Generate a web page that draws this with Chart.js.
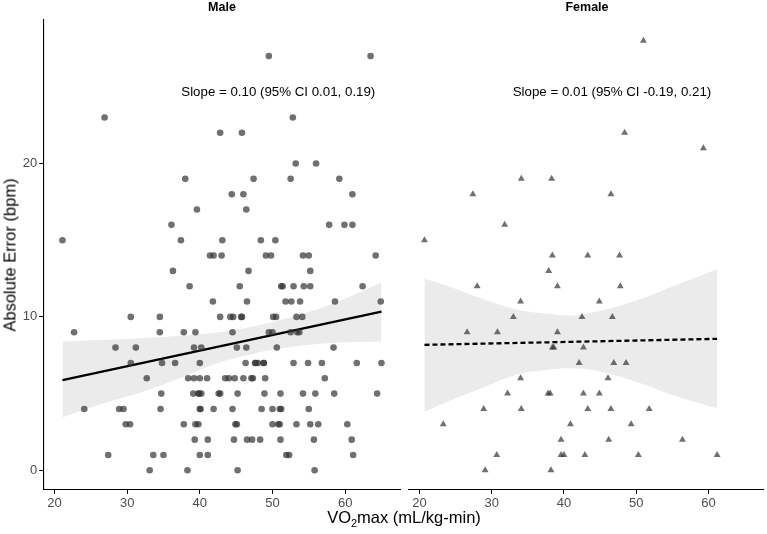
<!DOCTYPE html>
<html>
<head>
<meta charset="utf-8">
<script src="https://cdn.jsdelivr.net/npm/chart.js@4.4.1/dist/chart.umd.min.js"></script>
<style>
  body { margin: 0; background: #fff; font-family: "Liberation Sans", Arial, sans-serif; }
  #wrap { position: relative; width: 767px; height: 534px; overflow: hidden; }
  canvas { position: absolute; top: 0; }
  .lbl { position: absolute; color: #000; white-space: nowrap; }
</style>
</head>
<body>
<div id="wrap">
  <canvas id="maleChart" width="404" height="534" style="left:0"></canvas>
  <canvas id="femaleChart" width="363" height="534" style="left:404px"></canvas>
  <div class="lbl" style="left:222px;top:0;transform:translateX(-50%);font-size:12.5px;font-weight:bold;">Male</div>
  <div class="lbl" style="left:587px;top:0;transform:translateX(-50%);font-size:12.5px;font-weight:bold;">Female</div>
  <div class="lbl" style="left:404px;top:508px;transform:translateX(-50%);font-size:16.5px;">VO<sub style="font-size:11px;vertical-align:-4px;">2</sub>max (mL/kg-min)</div>
  <div class="lbl" style="left:10px;top:255px;transform:translate(-50%,-50%) rotate(-90deg);font-size:16.5px;">Absolute Error (bpm)</div>
</div>
<script>
// male: VO2max vs absolute error
const maleVO2 = [
  49.5, 63.5,
  26.9, 52.8,
  42.8, 45.8,
  53.2, 56.0,
  38.0, 47.4, 52.5, 59.2,
  44.4, 46.0, 61.0,
  39.6, 46.4,
  36.1, 57.8, 59.9, 61.0,
  21.1, 37.4, 43.1, 48.4, 50.4,
  41.4, 41.9, 43.0, 49.1, 49.8, 54.2, 55.0, 64.2,
  36.3, 46.7, 55.2,
  38.6, 45.5, 51.2, 51.4, 52.9, 54.3, 55.2, 62.4,
  41.8, 46.5, 51.8, 52.6, 53.8, 58.6, 64.9,
  30.5, 34.5, 42.8, 44.2, 44.6, 45.7, 45.8, 50.1, 50.5, 53.3, 54.1,
  22.7, 34.5, 37.8, 39.4, 44.5, 49.5, 50.0, 52.5, 53.4, 53.7,
  28.4, 31.2, 39.2, 40.2, 45.1, 46.4, 50.6, 58.4,
  30.5, 34.8, 36.6, 40.0, 46.3, 47.6, 47.7, 48.0, 48.8, 48.8, 52.9, 54.9, 56.8, 61.6, 65.0,
  32.7, 38.4, 39.2, 40.0, 41.0, 43.5, 44.0, 44.8, 46.0, 47.1, 47.3, 49.0, 57.2,
  34.7, 39.1, 39.8, 39.9, 40.2, 42.6, 42.8, 45.2, 48.9, 51.1, 54.2, 55.9, 58.5, 64.4,
  24.1, 28.9, 29.5, 34.6, 40.0, 40.1, 41.9, 44.5, 48.5, 50.0, 51.0, 51.2, 55.0,
  29.8, 30.4, 37.8, 39.4, 39.8, 44.9, 45.1, 50.0, 50.8, 51.0, 53.3, 55.2, 56.3, 60.3,
  39.3, 41.1, 44.7, 46.5, 47.2, 48.3, 51.1, 55.7, 60.9,
  27.4, 33.6, 35.0, 40.0, 41.1, 51.9, 52.3, 61.1,
  33.1, 38.3, 45.2, 55.8
];
const maleErr = [
  27, 27,
  23, 23,
  22, 22,
  20, 20,
  19, 19, 19, 19,
  18, 18, 18,
  17, 17,
  16, 16, 16, 16,
  15, 15, 15, 15, 15,
  14, 14, 14, 14, 14, 14, 14, 14,
  13, 13, 13,
  12, 12, 12, 12, 12, 12, 12, 12,
  11, 11, 11, 11, 11, 11, 11,
  10, 10, 10, 10, 10, 10, 10, 10, 10, 10, 10,
  9, 9, 9, 9, 9, 9, 9, 9, 9, 9,
  8, 8, 8, 8, 8, 8, 8, 8,
  7, 7, 7, 7, 7, 7, 7, 7, 7, 7, 7, 7, 7, 7, 7,
  6, 6, 6, 6, 6, 6, 6, 6, 6, 6, 6, 6, 6,
  5, 5, 5, 5, 5, 5, 5, 5, 5, 5, 5, 5, 5, 5,
  4, 4, 4, 4, 4, 4, 4, 4, 4, 4, 4, 4, 4,
  3, 3, 3, 3, 3, 3, 3, 3, 3, 3, 3, 3, 3, 3,
  2, 2, 2, 2, 2, 2, 2, 2, 2,
  1, 1, 1, 1, 1, 1, 1, 1,
  0, 0, 0, 0
];

// female: VO2max vs absolute error
const femaleVO2 = [
  51.0, 48.4, 59.3,
  34.1, 38.3,
  27.4, 46.5,
  31.8, 20.7,
  38.4, 43.3, 47.7,
  37.9,
  28.0, 39.1, 47.8,
  34.0, 44.9,
  33.0, 42.5, 46.7,
  26.6, 30.8, 39.1,
  38.4, 38.6, 42.7,
  42.1, 46.9, 48.6,
  34.0, 46.1,
  32.2, 37.8, 38.1, 42.7, 44.9,
  28.9, 34.1, 43.3, 46.5, 51.8,
  23.3, 40.9, 49.3,
  39.6, 46.2, 56.4,
  30.7, 39.6, 40.0, 42.9, 50.3, 61.2,
  29.1, 38.2
];
const femaleErr = [
  28, 22, 21,
  19, 19,
  18, 18,
  16, 15,
  14, 14, 14,
  13,
  12, 12, 12,
  11, 11,
  10, 10, 10,
  9, 9, 9,
  8, 8, 8,
  7, 7, 7,
  6, 6,
  5, 5, 5, 5, 5,
  4, 4, 4, 4, 4,
  3, 3, 3,
  2, 2, 2,
  1, 1, 1, 1, 1, 1,
  0, 0
];

// fitted lines and 95% bands
const maleFitX = [21.1, 65.0];
const maleFitY = [5.88, 10.35];
const maleBandX = [21.1, 26.0, 31.4, 36.7, 41.9, 46.5, 51.1, 57.9, 65.0];
const maleBandUpper = [8.4, 8.5, 8.6, 8.75, 8.95, 9.3, 9.8, 10.8, 12.25];
const maleBandLower = [3.45, 4.25, 5.0, 5.9, 6.9, 7.5, 7.95, 8.3, 8.4];

const femaleFitX = [20.7, 61.2];
const femaleFitY = [8.18, 8.57];
const femaleBandX = [20.7, 24.0, 28.6, 33.2, 37.7, 41.4, 45.9, 50.5, 55.1, 61.2];
const femaleBandUpper = [12.5, 12.0, 11.2, 10.5, 10.2, 10.1, 10.5, 11.15, 12.0, 13.1];
const femaleBandLower = [3.8, 4.5, 5.35, 6.2, 6.55, 6.65, 6.35, 5.7, 4.9, 4.05];

const xTicks = [20, 30, 40, 50, 60];
const yTicks = [0, 10, 20];
const maleLabel = 'Slope = 0.10 (95% CI 0.01, 0.19)';
const femaleLabel = 'Slope = 0.01 (95% CI -0.19, 0.21)';

const fontFamily = '"Liberation Sans", Arial, sans-serif';
const pointColor = 'rgba(51,51,51,0.7)';

function pairs(xs, ys) {
  return xs.map((x, i) => ({ x: x, y: ys[i] }));
}

// draws the slope text at a data position
const slopeText = {
  id: 'slopeText',
  afterDatasetsDraw(chart, args, opts) {
    const ctx = chart.ctx;
    const px = chart.scales.x.getPixelForValue(opts.x);
    const py = chart.scales.y.getPixelForValue(opts.y);
    ctx.save();
    ctx.font = '13.3px ' + fontFamily;
    ctx.fillStyle = '#000';
    ctx.textAlign = 'center';
    ctx.textBaseline = 'middle';
    ctx.fillText(opts.text, px, py);
    ctx.restore();
  }
};

function makeChart(id, pts, shape, radius, fitX, fitY, dash, bandX, up, lo, label, labelX, showY, padding) {
  const ctx = document.getElementById(id).getContext('2d');
  return new Chart(ctx, {
    type: 'scatter',
    data: {
      datasets: [
        { data: pts, pointStyle: shape, pointRadius: radius, backgroundColor: pointColor, borderWidth: 0 },
        { data: pairs(fitX, fitY), showLine: true, pointRadius: 0, borderColor: '#000', borderWidth: 2.3, borderDash: dash },
        { data: pairs(bandX, up), showLine: true, pointRadius: 0, borderWidth: 0, borderColor: 'rgba(0,0,0,0)', tension: 0.35 },
        { data: pairs(bandX, lo), showLine: true, pointRadius: 0, borderWidth: 0, borderColor: 'rgba(0,0,0,0)', tension: 0.35,
          fill: '-1', backgroundColor: '#ebebeb' }
      ]
    },
    options: {
      responsive: false,
      animation: false,
      layout: { padding: padding },
      plugins: {
        legend: { display: false },
        tooltip: { enabled: false },
        slopeText: { text: label, x: labelX, y: 24.65 }
      },
      scales: {
        x: {
          type: 'linear', min: 18.45, max: 67.55,
          afterBuildTicks: s => { s.ticks = xTicks.map(v => ({ value: v })); },
          afterFit: s => { s.height = 44.2; },
          grid: { drawOnChartArea: false, drawTicks: true, tickLength: 4, color: '#000' },
          border: { color: '#000', width: 1.1 },
          ticks: { color: '#4d4d4d', font: { size: 13, family: fontFamily }, padding: 2, maxRotation: 0 }
        },
        y: {
          type: 'linear', min: -1.27, max: 29.4, display: showY,
          afterBuildTicks: s => { s.ticks = yTicks.map(v => ({ value: v })); },
          afterFit: s => { s.width = showY ? 43.2 : 0; },
          grid: { drawOnChartArea: false, drawTicks: true, tickLength: 4, color: '#000' },
          border: { color: '#000', width: 1.1 },
          ticks: { color: '#4d4d4d', font: { size: 13, family: fontFamily }, padding: 2 }
        }
      }
    },
    plugins: [slopeText]
  });
}

makeChart('maleChart', pairs(maleVO2, maleErr), 'circle', 3.3, maleFitX, maleFitY, [],
  maleBandX, maleBandUpper, maleBandLower, maleLabel, 50.8, true,
  { left: 0, right: 2.6, top: 19.3, bottom: 0 });
makeChart('femaleChart', pairs(femaleVO2, femaleErr), 'triangle', 4, femaleFitX, femaleFitY, [5, 3],
  femaleBandX, femaleBandUpper, femaleBandLower, femaleLabel, 46.65, false,
  { left: 4.2, right: 0.6, top: 19.3, bottom: 0 });
</script>
</body>
</html>
